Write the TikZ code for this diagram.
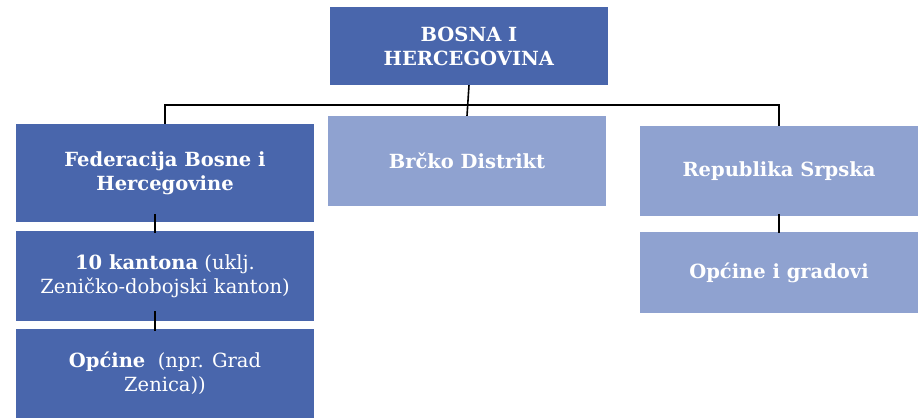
\documentclass[tikz,border=0pt]{standalone}
\usepackage{fontspec}
\setmainfont{DejaVu Serif}
\usetikzlibrary{positioning}

\definecolor{darkbox}{RGB}{73,102,172}
\definecolor{lightbox}{RGB}{143,162,208}

\tikzset{
	unit/.style={fill=#1, text=white, inner sep=0pt, align=center,
		font=\fontsize{19.5}{24}\selectfont},
	link/.style={black, line width=1.6pt}
}

\begin{document}
\begin{tikzpicture}[x=1pt, y=-1pt]
\useasboundingbox (0,0) rectangle (919,418);
\begin{scope}
	% top level
	\node[unit=darkbox, minimum width=278pt, minimum height=78pt] (bih) at (469,46) {\textbf{BOSNA I}\\\textbf{HERCEGOVINA}};
	% entities
	\node[unit=darkbox, minimum width=298pt, minimum height=98pt] (fbih) at (165,173) {\textbf{Federacija Bosne i}\\\textbf{Hercegovine}};
	\node[unit=lightbox, minimum width=278pt, minimum height=90pt] (brcko) at (467,161) {\textbf{Brčko Distrikt}};
	\node[unit=lightbox, minimum width=278pt, minimum height=90pt] (rs) at (779,171) {\textbf{Republika Srpska}};
	% lower levels
	\node[unit=darkbox, minimum width=298pt, minimum height=90pt] (kantoni) at (165,276) {\textbf{10 kantona} (uklj.\\Zeničko-dobojski kanton)};
	\node[unit=darkbox, minimum width=298pt, minimum height=89pt] (opcine) at (165,373.5) {\textbf{Općine}~ (npr. Grad\\Zenica))};
	\node[unit=lightbox, minimum width=278pt, minimum height=81pt] (rsopcine) at (779,272.5) {\textbf{Općine i gradovi}};
	\coordinate (bus) at (469,105);
	\draw[link] (bih.south) -- (brcko.north);
	\draw[link] (fbih.north) -- (fbih.north |- bus) -- (rs.north |- bus) -- (rs.north);
	\draw[link, shorten <=-8pt, shorten >=-2pt] ([xshift=-10pt]fbih.south) -- ([xshift=-10pt]kantoni.north);
	\draw[link, shorten <=-10pt, shorten >=-2pt] ([xshift=-10pt]kantoni.south) -- ([xshift=-10pt]opcine.north);
	\draw[link, shorten <=-2pt, shorten >=-1pt] (rs.south) -- (rsopcine.north);
\end{scope}
\end{tikzpicture}
\end{document}
